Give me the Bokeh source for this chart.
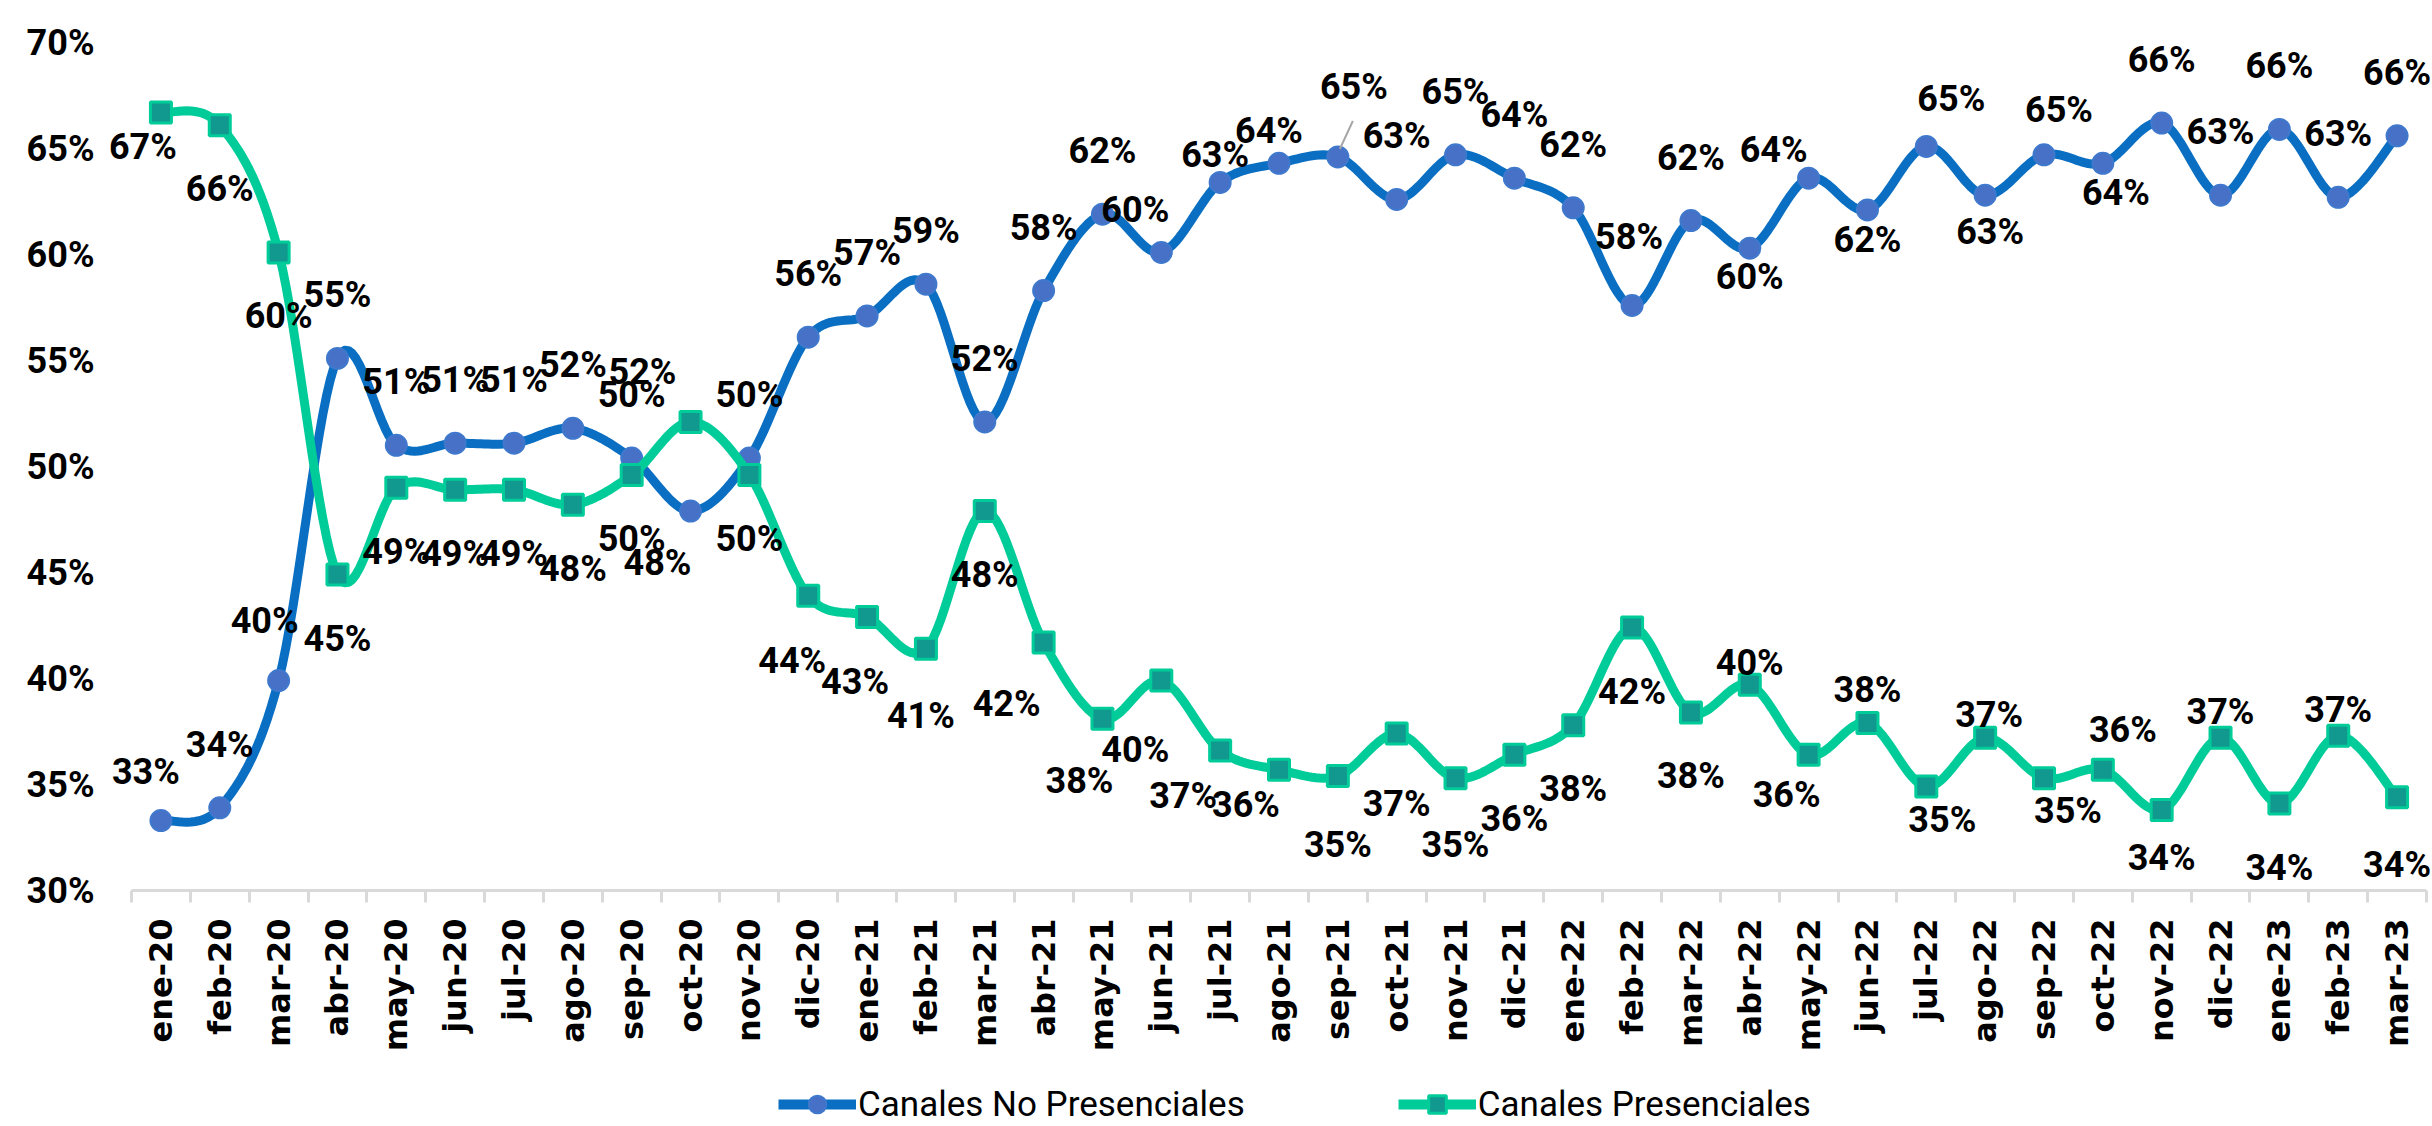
import math
from bokeh.plotting import figure
from bokeh.layouts import column
from bokeh.models import (FixedTicker, ColumnDataSource, LabelSet, Legend, LegendItem, Range1d)
from bokeh.embed import file_html
from bokeh.resources import INLINE
from bokeh.core.properties import value

# ---------------- data ----------------
months = ["ene-20", "feb-20", "mar-20", "abr-20", "may-20", "jun-20", "jul-20", "ago-20",
          "sep-20", "oct-20", "nov-20", "dic-20", "ene-21", "feb-21", "mar-21", "abr-21",
          "may-21", "jun-21", "jul-21", "ago-21", "sep-21", "oct-21", "nov-21", "dic-21",
          "ene-22", "feb-22", "mar-22", "abr-22", "may-22", "jun-22", "jul-22", "ago-22",
          "sep-22", "oct-22", "nov-22", "dic-22", "ene-23", "feb-23", "mar-23"]

no_presenciales = [33.3, 33.9, 39.9, 55.1, 51.0, 51.1, 51.1, 51.8,
                   50.4, 47.9, 50.4, 56.1, 57.1, 58.6, 52.1, 58.3,
                   61.9, 60.1, 63.4, 64.3, 64.6, 62.6, 64.7, 63.6,
                   62.2, 57.6, 61.6, 60.3, 63.6, 62.1, 65.1, 62.8,
                   64.7, 64.3, 66.2, 62.8, 65.9, 62.7, 65.6]

presenciales = [66.7, 66.1, 60.1, 44.9, 49.0, 48.9, 48.9, 48.2,
                49.6, 52.1, 49.6, 43.9, 42.9, 41.4, 47.9, 41.7,
                38.1, 39.9, 36.6, 35.7, 35.4, 37.4, 35.3, 36.4,
                37.8, 42.4, 38.4, 39.7, 36.4, 37.9, 34.9, 37.2,
                35.3, 35.7, 33.8, 37.2, 34.1, 37.3, 34.4]

series_names = ["Canales No Presenciales", "Canales Presenciales"]
y_ticks = [30, 35, 40, 45, 50, 55, 60, 65, 70]
y_tick_labels = ["30%", "35%", "40%", "45%", "50%", "55%", "60%", "65%", "70%"]

# ---------------- layout / style ----------------
W, H = 2432, 1126
LEG_H = 64                          # height of the legend strip under the chart
H_MAIN = H - LEG_H
AX_LEFT, AX_RIGHT = 131, 2426      # pixel extent of the category axis
Y_TOP_TICK, Y_BOTTOM = 42, 890      # pixel rows of the 70% and 30% ticks
FRAME_LEFT = 60                     # frame starts left of the axis so labels are not clipped
n = len(months)
px_x = (AX_RIGHT - AX_LEFT) / n
px_y = (Y_BOTTOM - Y_TOP_TICK) / (y_ticks[-1] - y_ticks[0])

BLUE_LINE = "#0a6fc2"
BLUE_FILL = "#4771c6"
BLUE_EDGE = "#3f78cc"
GREEN_LINE = "#00cc99"
GREEN_FILL = "#11988f"
LABEL_FONT = "Roboto"

# label nudges in screen pixels (dx right, dy down) relative to each point
blue_default = (0, -63)
blue_nudge = {0: (-15, -49), 2: (-14, -60), 9: (-33, 52), 13: (0, -53),
              17: (-26, -42), 18: (-5, -27), 19: (-10, -32), 20: (16, -70), 25: (-3, -68),
              27: (0, 29), 28: (-35, -28), 29: (0, 30), 30: (25, -47), 31: (5, 37),
              32: (15, -45), 33: (13, 30)}
green_default = (0, 64)
green_nudge = {0: (-18, 35), 9: (-48, -50), 11: (-16, 65), 12: (-12, 65), 13: (-5, 67),
               15: (-37, 62), 16: (-23, 62), 17: (-26, 69), 18: (-37, 45), 19: (-33, 35),
               20: (0, 69), 21: (0, 70), 22: (0, 67), 27: (0, -22), 28: (-22, 40),
               29: (0, -33), 30: (16, 33), 31: (4, -23), 32: (24, 33), 33: (20, -40),
               34: (0, 48), 35: (0, -26), 36: (0, 64), 37: (0, -26), 38: (0, 68)}


def smooth(xs, ys, steps=16):
    """Catmull-Rom path through the points (rendering of Excel's smoothed line)."""
    px, py = [], []
    m = len(xs)
    for i in range(m - 1):
        x0, y0 = (xs[i - 1], ys[i - 1]) if i > 0 else (xs[i], ys[i])
        x1, y1 = xs[i], ys[i]
        x2, y2 = xs[i + 1], ys[i + 1]
        x3, y3 = (xs[i + 2], ys[i + 2]) if i + 2 < m else (xs[i + 1], ys[i + 1])
        c1x, c1y = x1 + (x2 - x0) / 6, y1 + (y2 - y0) / 6
        c2x, c2y = x2 - (x3 - x1) / 6, y2 - (y3 - y1) / 6
        for k in range(steps):
            t = k / steps
            a, b, c, d = (1 - t) ** 3, 3 * (1 - t) ** 2 * t, 3 * (1 - t) * t ** 2, t ** 3
            px.append(a * x1 + b * c1x + c * c2x + d * x2)
            py.append(a * y1 + b * c1y + c * c2y + d * y2)
    px.append(xs[-1])
    py.append(ys[-1])
    return px, py


def label_source(vals, default, nudge):
    lx, ly, txt = [], [], []
    for i, v in enumerate(vals):
        dx, dy = nudge.get(i, default)
        lx.append(i + dx / px_x)
        ly.append(v - dy / px_y)
        txt.append(f"{v:.0f}%")
    return ColumnDataSource(dict(x=lx, y=ly, text=txt))


xs = list(range(n))
x_start = -0.5 - (AX_LEFT - FRAME_LEFT) / px_x
x_end = n - 0.5 + (W - AX_RIGHT) / px_x
y_end = y_ticks[-1] + Y_TOP_TICK / px_y

p = figure(width=W, height=H_MAIN, x_range=Range1d(x_start, x_end),
           y_range=Range1d(y_ticks[0], y_end),
           output_backend="svg", toolbar_location=None,
           min_border_left=FRAME_LEFT, min_border_right=0, min_border_top=0,
           min_border_bottom=H_MAIN - Y_BOTTOM)
p.outline_line_color = None
p.grid.visible = False
p.background_fill_color = "white"

# x axis
xa = p.xaxis[0]
xa.bounds = (-0.5, n - 0.5)
xa.ticker = FixedTicker(ticks=xs, minor_ticks=[i - 0.5 for i in range(n + 1)])
xa.major_label_overrides = {i: m for i, m in enumerate(months)}
xa.major_label_orientation = math.pi / 2
xa.major_tick_line_color = None
xa.major_tick_out = 12
xa.major_tick_in = 0
xa.minor_tick_line_color = "#d9d9d9"
xa.minor_tick_line_width = 3
xa.minor_tick_out = 12
xa.minor_tick_in = 0
xa.axis_line_color = "#d9d9d9"
xa.axis_line_width = 3
xa.major_label_standoff = 16
xa.major_label_text_font = "DejaVu Sans"
xa.major_label_text_font_style = "bold"
xa.major_label_text_font_size = "32px"
xa.major_label_text_color = "black"

# y axis (labels pushed into place with a negative standoff)
ya = p.yaxis[0]
ya.ticker = FixedTicker(ticks=y_ticks)
ya.major_label_overrides = {t: l for t, l in zip(y_ticks, y_tick_labels)}
ya.axis_line_color = None
ya.major_tick_line_color = None
ya.minor_tick_line_color = None
ya.major_tick_out = 0
ya.major_tick_in = 0
ya.major_label_standoff = FRAME_LEFT - 94
ya.major_label_text_font = LABEL_FONT
ya.major_label_text_font_style = "bold"
ya.major_label_text_font_size = "36px"
ya.major_label_text_color = "black"

# series
bx, by = smooth(xs, no_presenciales)
gx, gy = smooth(xs, presenciales)

p.line(bx, by, line_color=BLUE_LINE, line_width=9, line_join="round", line_cap="round")
p.scatter(xs, no_presenciales, marker="circle", size=21, fill_color=BLUE_FILL,
          line_color=BLUE_EDGE, line_width=2)
p.line(gx, gy, line_color=GREEN_LINE, line_width=9, line_join="round", line_cap="round")
p.scatter(xs, presenciales, marker="square", size=21, fill_color=GREEN_FILL,
          line_color=GREEN_LINE, line_width=3)

# leader line for the sep-21 label
k = 20
p.segment(x0=[k + 2 / px_x], y0=[no_presenciales[k] + 8 / px_y],
          x1=[k + 15 / px_x], y1=[no_presenciales[k] + 36 / px_y],
          line_color="#a6a6a6", line_width=2)

for vals, d, nd in ((no_presenciales, blue_default, blue_nudge),
                    (presenciales, green_default, green_nudge)):
    ls = LabelSet(x="x", y="y", text="text", source=label_source(vals, d, nd),
                  text_font=value(LABEL_FONT), text_font_style="bold", text_font_size="36px",
                  text_color="black", text_align="center", text_baseline="middle")
    p.add_layout(ls)

# ---------------- legend strip ----------------
pl = figure(width=W, height=LEG_H, x_range=Range1d(0, 1), y_range=Range1d(0, 1),
            output_backend="svg", toolbar_location=None, x_axis_location=None,
            y_axis_location=None, min_border=0)
pl.outline_line_color = None
pl.grid.visible = False
nan = float("nan")
lb = pl.line(x=[nan, nan], y=[nan, nan], line_color=BLUE_LINE, line_width=10)
lbm = pl.scatter(x=[nan], y=[nan], marker="circle", size=21, fill_color=BLUE_FILL,
                 line_color=BLUE_EDGE, line_width=2)
lg = pl.line(x=[nan, nan], y=[nan, nan], line_color=GREEN_LINE, line_width=10)
lgm = pl.scatter(x=[nan], y=[nan], marker="square", size=21, fill_color=GREEN_FILL,
                 line_color=GREEN_LINE, line_width=3)

legend = Legend(items=[LegendItem(label=series_names[0], renderers=[lb, lbm]),
                       LegendItem(label=series_names[1], renderers=[lg, lgm])],
                location=(718, 0), orientation="horizontal", spacing=153,
                padding=0, margin=0, glyph_width=78, glyph_height=44, label_standoff=2,
                label_text_font=LABEL_FONT, label_text_font_size="35px",
                label_text_color="black", border_line_color=None,
                background_fill_alpha=0)
pl.add_layout(legend, "center")

open("out.html", "w").write(file_html(column(p, pl, spacing=0), INLINE))
